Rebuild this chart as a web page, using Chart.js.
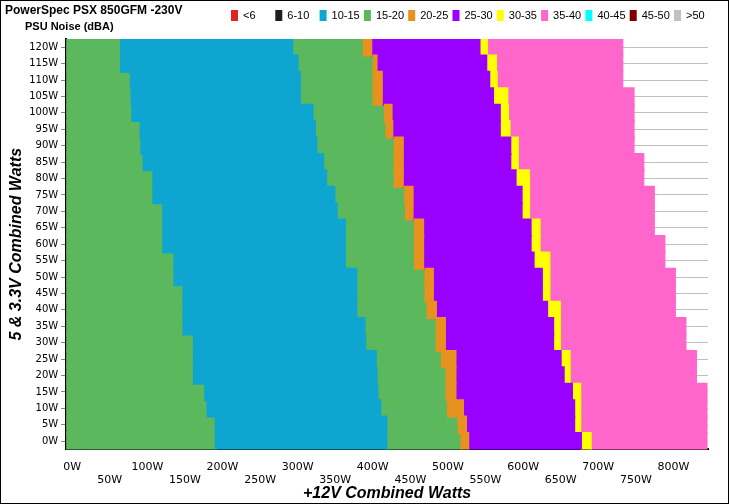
<!DOCTYPE html>
<html>
<head>
<meta charset="utf-8">
<script src="https://cdn.jsdelivr.net/npm/chart.js@4"></script>
<style>
  body { margin: 0; background: #fff; }
  #wrap { position: relative; width: 727px; height: 502px; border: 1px solid #000; }
</style>
</head>
<body>
<div id="wrap"><canvas id="noiseChart"></canvas></div>
<script>
// rows, top (120W) to bottom (0W)
var rowLabels = ['120W','115W','110W','105W','100W','95W','90W','85W','80W','75W','70W','65W','60W',
  '55W','50W','45W','40W','35W','30W','25W','20W','15W','10W','5W','0W'];

// zone boundaries on +12V axis (W), one value per row
var b0 = [-8,-8,-8,-8,-8,-8,-8,-8,-8,-8,-8,-8,-8,-8,-8,-8,-8,-8,-8,-8,-8,-8,-8,-8,-8];
var b1 = [65,65,78,79,80,91,92,95,108,108,121,121,121,136,136,148,148,148,162,162,162,177,180,191,191];
var b2 = [293,300,303,303,320,323,325,334,338,349,352,363,363,363,378,378,378,389,390,404,405,406,410,418,418];
var b3 = [388,401,401,401,416,418,429,429,429,443,444,456,456,456,470,470,473,485,485,492,498,498,500,514,518];
var b4 = [398,405,412,412,425,426,440,440,440,453,453,467,467,467,480,480,484,496,496,510,510,510,520,524,527];
var b5 = [542,551,555,560,569,569,583,583,590,598,598,610,610,614,625,625,632,640,640,650,654,665,668,668,677];
var b6 = [552,564,565,579,580,582,593,593,608,608,608,622,622,635,635,635,649,649,649,662,662,676,676,676,690];
var b7 = [732,732,732,747,747,747,747,760,760,774,774,774,788,788,802,802,802,816,816,830,830,844,844,844,844];

var legendNames = ['<6','6-10','10-15','15-20','20-25','25-30','30-35','35-40','40-45','45-50','>50'];
var legendColors = ['#e02424','#1e1e1e','#0ea5d1','#5cb85c','#e8911f','#9900ff','#ffff00','#ff66cc','#00ffff','#800000','#c0c0c0'];

function span(a, b) {
  return a.map(function(v, i) { return [v, b[i]]; });
}

var bands = {
  '10-15': span(b1, b2),
  '15-20': span(b0, b1),
  '20-25': span(b3, b4),
  '25-30': span(b4, b5),
  '30-35': span(b5, b6),
  '35-40': span(b6, b7)
};

function band(label, data, color) {
  return {
    label: label,
    data: data,
    backgroundColor: color,
    borderWidth: 0,
    inflateAmount: 1,
    grouped: false,
    barPercentage: 1,
    categoryPercentage: 1
  };
}

var datasets = legendNames.map(function(name, i) {
  return band(name, bands[name] || [], legendColors[i]);
});
// second green zone, not a legend entry
datasets.push(band('15-20b', span(b2, b3), legendColors[3]));

// titles and the legend row along the top
var headerPlugin = {
  id: 'header',
  afterDraw: function(chart) {
    var c = chart.ctx;
    c.save();
    c.fillStyle = '#000';
    c.textBaseline = 'top';
    c.font = 'bold 12px "Liberation Sans", Arial, sans-serif';
    c.fillText('PowerSpec PSX 850GFM -230V', 4, 4);
    c.font = 'bold 11px "Liberation Sans", Arial, sans-serif';
    c.fillText('PSU Noise (dBA)', 24, 20);
    c.textBaseline = 'middle';
    c.font = '11px "Liberation Sans", Arial, sans-serif';
    for (var i = 0; i < legendNames.length; i++) {
      var x = 230 + i * 44.3;
      c.fillStyle = legendColors[i];
      c.fillRect(x, 9, 7, 11);
      c.fillStyle = '#000';
      c.fillText(legendNames[i], x + 12, 15);
    }
    c.restore();
  }
};

new Chart(document.getElementById('noiseChart'), {
  type: 'bar',
  data: { labels: rowLabels, datasets: datasets },
  plugins: [headerPlugin],
  options: {
    indexAxis: 'y',
    responsive: true,
    maintainAspectRatio: false,
    animation: false,
    layout: { padding: { left: 2, right: 20, top: 38, bottom: 0 } },
    plugins: {
      tooltip: { enabled: false },
      legend: { display: false }
    },
    scales: {
      x: {
        type: 'linear',
        min: -8,
        max: 846,
        afterBuildTicks: function(axis) {
          var t = [];
          for (var v = 0; v <= 800; v += 50) t.push({ value: v });
          axis.ticks = t;
        },
        ticks: {
          autoSkip: false,
          maxRotation: 0,
          color: '#000',
          font: { size: 11, family: '"DejaVu Sans", sans-serif' },
          callback: function(v) {
            return v % 100 === 0 ? [v + 'W', ''] : ['', v + 'W'];
          }
        },
        grid: { display: false },
        border: { color: '#000', width: 2 },
        title: {
          display: true,
          text: '+12V Combined Watts',
          color: '#000',
          padding: { top: -6, bottom: 0 },
          font: { size: 16, weight: 'bold', style: 'italic', family: '"Liberation Sans", Arial, sans-serif' }
        }
      },
      y: {
        afterFit: function(axis) { axis.width = axis.width - 4; },
        ticks: {
          color: '#000',
          font: { size: 10, family: '"DejaVu Sans", sans-serif' }
        },
        grid: { color: '#c0c0c0', offset: false, tickColor: '#808080', tickLength: 5 },
        border: { color: '#000', width: 2 },
        title: {
          display: true,
          text: '5 & 3.3V Combined Watts',
          color: '#000',
          font: { size: 16, weight: 'bold', style: 'italic', family: '"Liberation Sans", Arial, sans-serif' }
        }
      }
    }
  }
});
</script>
</body>
</html>
